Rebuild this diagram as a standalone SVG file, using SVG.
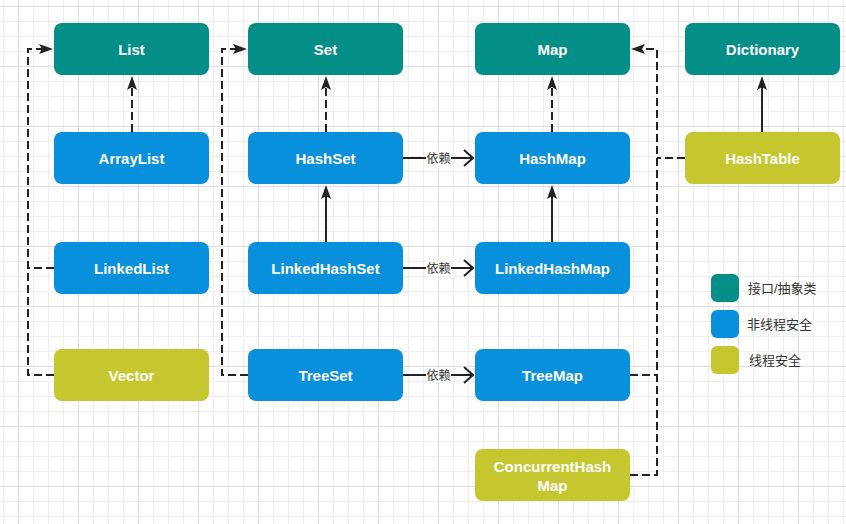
<svg xmlns="http://www.w3.org/2000/svg" width="846" height="524" viewBox="0 0 846 524">
  <style>
    .n rect { rx: 8; ry: 8; }
    .iface { fill: #038E88; }
    .unsafe { fill: #0890DC; }
    .safe { fill: #C6C72E; }
    .lbl { font-family: "Liberation Sans", Arial, sans-serif; font-size: 15px; font-weight: bold; fill: #ffffff; text-anchor: middle; dominant-baseline: central; }
    .edge { fill: none; stroke: #222; stroke-width: 2; }
    .dash { stroke-dasharray: 8 4; }
    .dep { font-family: "Liberation Sans", "Noto Sans CJK SC", sans-serif; font-size: 12px; fill: #333; text-anchor: middle; dominant-baseline: central; }
    .leg { font-family: "Liberation Sans", "Noto Sans CJK SC", sans-serif; font-size: 13px; fill: #333; dominant-baseline: central; }
  </style>
  <defs>
    <pattern id="minor" patternUnits="userSpaceOnUse" x="3" y="6" width="15" height="15">
      <path d="M0.5,0 V15 M0,0.5 H15" stroke="#efefef" stroke-width="1" fill="none"/>
    </pattern>
    <pattern id="major" patternUnits="userSpaceOnUse" x="18" y="6" width="60" height="60">
      <path d="M0.5,0 V60 M0,0.5 H60" stroke="#e0e0e0" stroke-width="1" fill="none"/>
    </pattern>
    <marker id="tri" markerUnits="userSpaceOnUse" viewBox="0 0 14 10" refX="3" refY="5" markerWidth="14" markerHeight="10" orient="auto">
      <path d="M0,0 L14,5 L0,10 L3,5 Z" fill="#222"/>
    </marker>
    <marker id="open" markerUnits="userSpaceOnUse" viewBox="-2 -2 14 20" refX="9" refY="8" markerWidth="14" markerHeight="20" orient="auto">
      <path d="M0,0 L9,8 L0,16" fill="none" stroke="#222" stroke-width="2"/>
    </marker>
  </defs>

  <rect width="846" height="524" fill="#ffffff"/>
  <rect width="846" height="524" fill="url(#minor)"/>
  <rect width="846" height="524" fill="url(#major)"/>

  <g id="connectors">
    <path class="edge dash" d="M132,132 V87" marker-end="url(#tri)"/>
    <path class="edge dash" d="M54,375 H28 V49 H42" marker-end="url(#tri)"/>
    <path class="edge dash" d="M54,268 H28"/>
    <path class="edge dash" d="M326,132 V87" marker-end="url(#tri)"/>
    <path class="edge dash" d="M248,375 H222 V49 H236" marker-end="url(#tri)"/>
    <path class="edge" d="M326,242 V196" marker-end="url(#tri)"/>
    <path class="edge dash" d="M552,132 V87" marker-end="url(#tri)"/>
    <path class="edge" d="M552,242 V196" marker-end="url(#tri)"/>
    <path class="edge dash" d="M630,475 H657 V49 H642" marker-end="url(#tri)"/>
    <path class="edge dash" d="M630,375 H657"/>
    <path class="edge dash" d="M685,158 H657"/>
    <path class="edge" d="M762,132 V87" marker-end="url(#tri)"/>

    <g id="dep1">
      <path class="edge" d="M403,158 H473" marker-end="url(#open)"/>
      <rect x="426" y="151" width="25" height="15" fill="#ffffff"/>
      <text class="dep" x="438.5" y="158.5">依赖</text>
    </g>
    <g id="dep2">
      <path class="edge" d="M403,268 H473" marker-end="url(#open)"/>
      <rect x="426" y="261" width="25" height="15" fill="#ffffff"/>
      <text class="dep" x="438.5" y="268.5">依赖</text>
    </g>
    <g id="dep3">
      <path class="edge" d="M403,375 H473" marker-end="url(#open)"/>
      <rect x="426" y="368" width="25" height="15" fill="#ffffff"/>
      <text class="dep" x="438.5" y="375.5">依赖</text>
    </g>
  </g>

  <g id="List" class="n"><rect class="iface" x="54" y="23" width="155" height="52"/><text class="lbl" x="131.5" y="49">List</text></g>
  <g id="Set" class="n"><rect class="iface" x="248" y="23" width="155" height="52"/><text class="lbl" x="325.5" y="49">Set</text></g>
  <g id="Map" class="n"><rect class="iface" x="475" y="23" width="155" height="52"/><text class="lbl" x="552.5" y="49">Map</text></g>
  <g id="Dictionary" class="n"><rect class="iface" x="685" y="23" width="155" height="52"/><text class="lbl" x="762.5" y="49">Dictionary</text></g>

  <g id="ArrayList" class="n"><rect class="unsafe" x="54" y="132" width="155" height="52"/><text class="lbl" x="131.5" y="158">ArrayList</text></g>
  <g id="HashSet" class="n"><rect class="unsafe" x="248" y="132" width="155" height="52"/><text class="lbl" x="325.5" y="158">HashSet</text></g>
  <g id="HashMap" class="n"><rect class="unsafe" x="475" y="132" width="155" height="52"/><text class="lbl" x="552.5" y="158">HashMap</text></g>
  <g id="HashTable" class="n"><rect class="safe" x="685" y="132" width="155" height="52"/><text class="lbl" x="762.5" y="158">HashTable</text></g>

  <g id="LinkedList" class="n"><rect class="unsafe" x="54" y="242" width="155" height="52"/><text class="lbl" x="131.5" y="268">LinkedList</text></g>
  <g id="LinkedHashSet" class="n"><rect class="unsafe" x="248" y="242" width="155" height="52"/><text class="lbl" x="325.5" y="268">LinkedHashSet</text></g>
  <g id="LinkedHashMap" class="n"><rect class="unsafe" x="475" y="242" width="155" height="52"/><text class="lbl" x="552.5" y="268">LinkedHashMap</text></g>

  <g id="Vector" class="n"><rect class="safe" x="54" y="349" width="155" height="52"/><text class="lbl" x="131.5" y="375">Vector</text></g>
  <g id="TreeSet" class="n"><rect class="unsafe" x="248" y="349" width="155" height="52"/><text class="lbl" x="325.5" y="375">TreeSet</text></g>
  <g id="TreeMap" class="n"><rect class="unsafe" x="475" y="349" width="155" height="52"/><text class="lbl" x="552.5" y="375">TreeMap</text></g>

  <g id="ConcurrentHashMap" class="n"><rect class="safe" x="475" y="449" width="155" height="52"/><text class="lbl" x="552.5" y="466.5">ConcurrentHash</text><text class="lbl" x="552.5" y="485.5">Map</text></g>

  <g id="legend">
    <rect class="iface" x="711" y="274" width="28" height="28" rx="6"/>
    <text class="leg" x="748" y="288">接口/抽象类</text>
    <rect class="unsafe" x="711" y="310" width="28" height="28" rx="6"/>
    <text class="leg" x="747" y="324">非线程安全</text>
    <rect class="safe" x="711" y="346" width="28" height="28" rx="6"/>
    <text class="leg" x="749" y="360">线程安全</text>
  </g>
</svg>
